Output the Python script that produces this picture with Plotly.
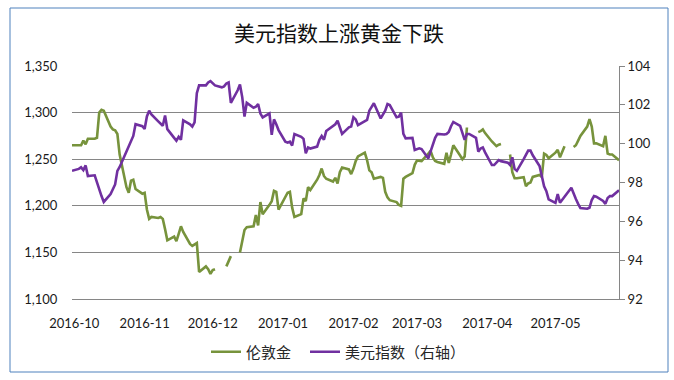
import pandas as pd
import plotly.graph_objects as go

# ---------------- data ----------------
title_text = "美元指数上涨黄金下跌"
gold_name = "伦敦金"
usd_name = "美元指数（右轴）"

x_tick_labels = ["2016-10", "2016-11", "2016-12", "2017-01",
                 "2017-02", "2017-03", "2017-04", "2017-05"]
left_ticks = [1100, 1150, 1200, 1250, 1300, 1350]
right_ticks = [92, 94, 96, 98, 100, 102, 104]

first_day = "2016-09-30"
last_day = "2017-05-29"

gold_sep = [1265]
gold_oct = [1265, 1265, 1270, 1266, 1272, 1272, 1273, 1300, 1303, 1302, 1285,
            1282, 1281, 1277, 1255, 1220, 1214, 1227, 1228, 1218, 1213]
gold_nov = [1214, 1196, 1186, 1188, 1187, 1188, 1186, 1175, 1163, 1167, 1162,
            1170, 1178, 1172, 1159, 1157, 1159, 1160, 1129, 1135, 1132, 1127]
gold_dec = [1131, 1132, None, None, 1135, 1140, 1146, None, 1150, 1162, 1174,
            1177, 1178, 1190, 1179, 1204, 1191, 1201, 1205, 1216, 1215, 1196]
gold_jan = [1209, 1214, 1215, 1198, 1188, 1191, 1208, 1205, 1220, 1217, 1228,
            1233, 1240, 1232, 1229, 1226, 1230, 1224, 1236, 1241, 1239, 1234]
gold_feb = [1240, 1248, 1253, 1257, 1249, 1238, 1236, 1229, 1231, 1230, 1215,
            1209, 1206, 1204, 1201, 1200, 1229, 1231, 1235, 1244]
gold_mar = [1248.6, 1248.6, 1248, 1256, 1259, 1252, 1248, 1247, 1245, 1257,
            1246, 1255, 1265, 1254, 1250, 1253, 1284, None, None, 1279, 1280,
            1282, 1278]
gold_apr = [1269, 1266, 1264, 1265.6, 1266.4, None, 1255, 1236, 1229.6, 1229.6,
            1230.7, 1221, 1224, 1225, 1231, 1233, 1231, 1256, 1254.6, 1251]
gold_may = [1257, 1260, 1252, 1258, 1264, None, 1263, 1265, 1270, 1275, 1285,
            1293, 1285, 1267, 1267, 1264, 1275, 1256, 1255, 1255, 1249]

usd_sep = [98.6]
usd_oct = [98.7, 98.78, 98.64, 98.88, 98.33, 98.37, 98.0, 97.6, 97.3, 97.0,
           97.4, 97.65, 97.9, 98.6, 98.8, 99.6, 99.9, 100.1, 100.4, 101.0, 100.9]
usd_nov = [100.76, 101.4, 101.7, 101.5, 101.15, 101.05, 100.92, 101.45, 100.75,
           100.3, 100.15, 100.35, 100.2, 101.2, 101.0, 100.88, 101.1, 102.6,
           103.0, 103.0, 103.15, 103.22]
usd_dec = [103.1, 103.0, 102.9, 102.95, 103.1, 103.15, 102.1, 102.75, 103.05,
           102.4, 101.4, 102.1, 101.85, 101.9, 102.04, 101.55, 101.35, 101.56,
           100.45, 101.25, 101.0, 100.7]
usd_jan = [100.1, 100.05, 100.1, 99.9, 100.5, 100.35, 100.25, 99.5, 99.8, 99.75,
           99.85, 100.2, 100.39, 100.2, 100.65, 100.91, 101.0, 101.18, 100.85,
           100.5, 100.84, 100.88]
usd_feb = [101.36, 101.25, 100.96, 101.13, 101.22, 101.7, 101.9, 102.08, 101.3,
           101.53, 101.7, 102.04, 101.99, 101.36, 101.39, 101.6, 100.5, 100.27,
           100.3, 99.67]
usd_mar = [99.72, 99.76, 99.72, 99.24, 99.6, 99.95, 100.3, 100.5, 100.47, 100.5,
           100.6, 100.9, 101.12, 100.92, 100.6, 100.2, 100.5, 100.5, 100.3,
           99.59, 99.75, 99.8, 99.55]
usd_apr = [98.9, 98.9, 99.05, 99.15, 99.1, 99.02, 98.9, 99.3, 98.7, 98.6, 99.2,
           99.45, 99.64, 99.64, 99.4, 98.85, 98.3, 97.8, 97.55, 97.13]
usd_may = [96.95, 97.4, 96.96, 97.1, 97.27, 97.73, 97.4, 97.15, 96.9, 96.68,
           96.65, 96.7, 97.1, 97.3, 97.27, 97.05, 96.9, 97.2, 97.3, 97.3, 97.6]

# ---------------- build ----------------
dates = pd.bdate_range(first_day, last_day)
gold = (gold_sep + gold_oct + gold_nov + gold_dec + gold_jan + gold_feb +
        gold_mar + gold_apr + gold_may)
usd = (usd_sep + usd_oct + usd_nov + usd_dec + usd_jan + usd_feb +
       usd_mar + usd_apr + usd_may)
assert len(gold) == len(dates) == len(usd), (len(gold), len(usd), len(dates))

tick_dates = [pd.Timestamp(lbl + "-01") for lbl in x_tick_labels]

W, H = 674, 380
L, R, T, B = 72, 55, 66, 81
pw, ph = W - L - R, H - T - B

GREEN = "#77933C"
PURPLE = "#7030A0"
GRID = "#868686"
TICKFONT = dict(family="Lato, Carlito, 'Liberation Sans', sans-serif", size=13, color="#1a1a1a")
CJK = "'Noto Sans CJK SC', 'Noto Sans', sans-serif"
LEGFONT = dict(family=CJK, size=15, color="#262626")

fig = go.Figure()
fig.add_trace(go.Scatter(x=dates, y=gold, mode="lines", name=gold_name,
                         line=dict(color=GREEN, width=2.6), connectgaps=False,
                         hoverinfo="skip", legend="legend"))
fig.add_trace(go.Scatter(x=dates, y=usd, mode="lines", name=usd_name, yaxis="y2",
                         line=dict(color=PURPLE, width=2.6), hoverinfo="skip",
                         legend="legend2"))

fig.update_layout(
    width=W, height=H, autosize=False,
    margin=dict(l=L, r=R, t=T, b=B, pad=0, autoexpand=False),
    paper_bgcolor="white", plot_bgcolor="white",
    title=dict(text=title_text, x=0.503, xref="container", xanchor="center",
               y=1 - 34 / H, yref="container", yanchor="middle",
               font=dict(family=CJK, size=21, color="#111111")),
    xaxis=dict(type="date", range=[first_day, last_day],
               tickvals=tick_dates, ticktext=x_tick_labels,
               showgrid=False, showline=True, linecolor=GRID, linewidth=1,
               ticks="outside", ticklen=12, tickcolor="rgba(0,0,0,0)",
               tickfont=TICKFONT, zeroline=False, fixedrange=True,
               automargin=False),
    yaxis=dict(range=[left_ticks[0], left_ticks[-1]], tickvals=left_ticks,
               tickformat=",", showgrid=True, gridcolor=GRID, gridwidth=1,
               showline=False, zeroline=False,
               ticks="outside", ticklen=11, tickcolor="rgba(0,0,0,0)",
               tickfont=TICKFONT, fixedrange=True, automargin=False),
    yaxis2=dict(range=[right_ticks[0], right_ticks[-1]], tickvals=right_ticks,
                overlaying="y", side="right", showgrid=False, zeroline=False,
                showline=True, linecolor=GRID, linewidth=1,
                ticks="outside", ticklen=5, tickcolor=GRID,
                tickfont=TICKFONT, fixedrange=True, automargin=False),
    legend=dict(orientation="h", x=(206) / W, xref="container", xanchor="left",
                y=1 - 352 / H, yref="container", yanchor="middle",
                font=LEGFONT, bgcolor="rgba(0,0,0,0)"),
    legend2=dict(orientation="h", x=(305) / W, xref="container", xanchor="left",
                 y=1 - 352 / H, yref="container", yanchor="middle",
                 font=LEGFONT, bgcolor="rgba(0,0,0,0)"),
    showlegend=True,
)

# chart-area border
fig.add_shape(type="rect", xref="paper", yref="paper",
              x0=(10 - L) / pw, x1=(668 - L) / pw,
              y0=(H - B - 372) / ph, y1=(H - B - 8) / ph,
              line=dict(color="#4F81BD", width=1), fillcolor="rgba(0,0,0,0)",
              layer="below")

fig.write_html(
    "out.html",
    config={"displayModeBar": False},
    post_script="document.body.style.margin='0';document.body.style.padding='0';",
)
